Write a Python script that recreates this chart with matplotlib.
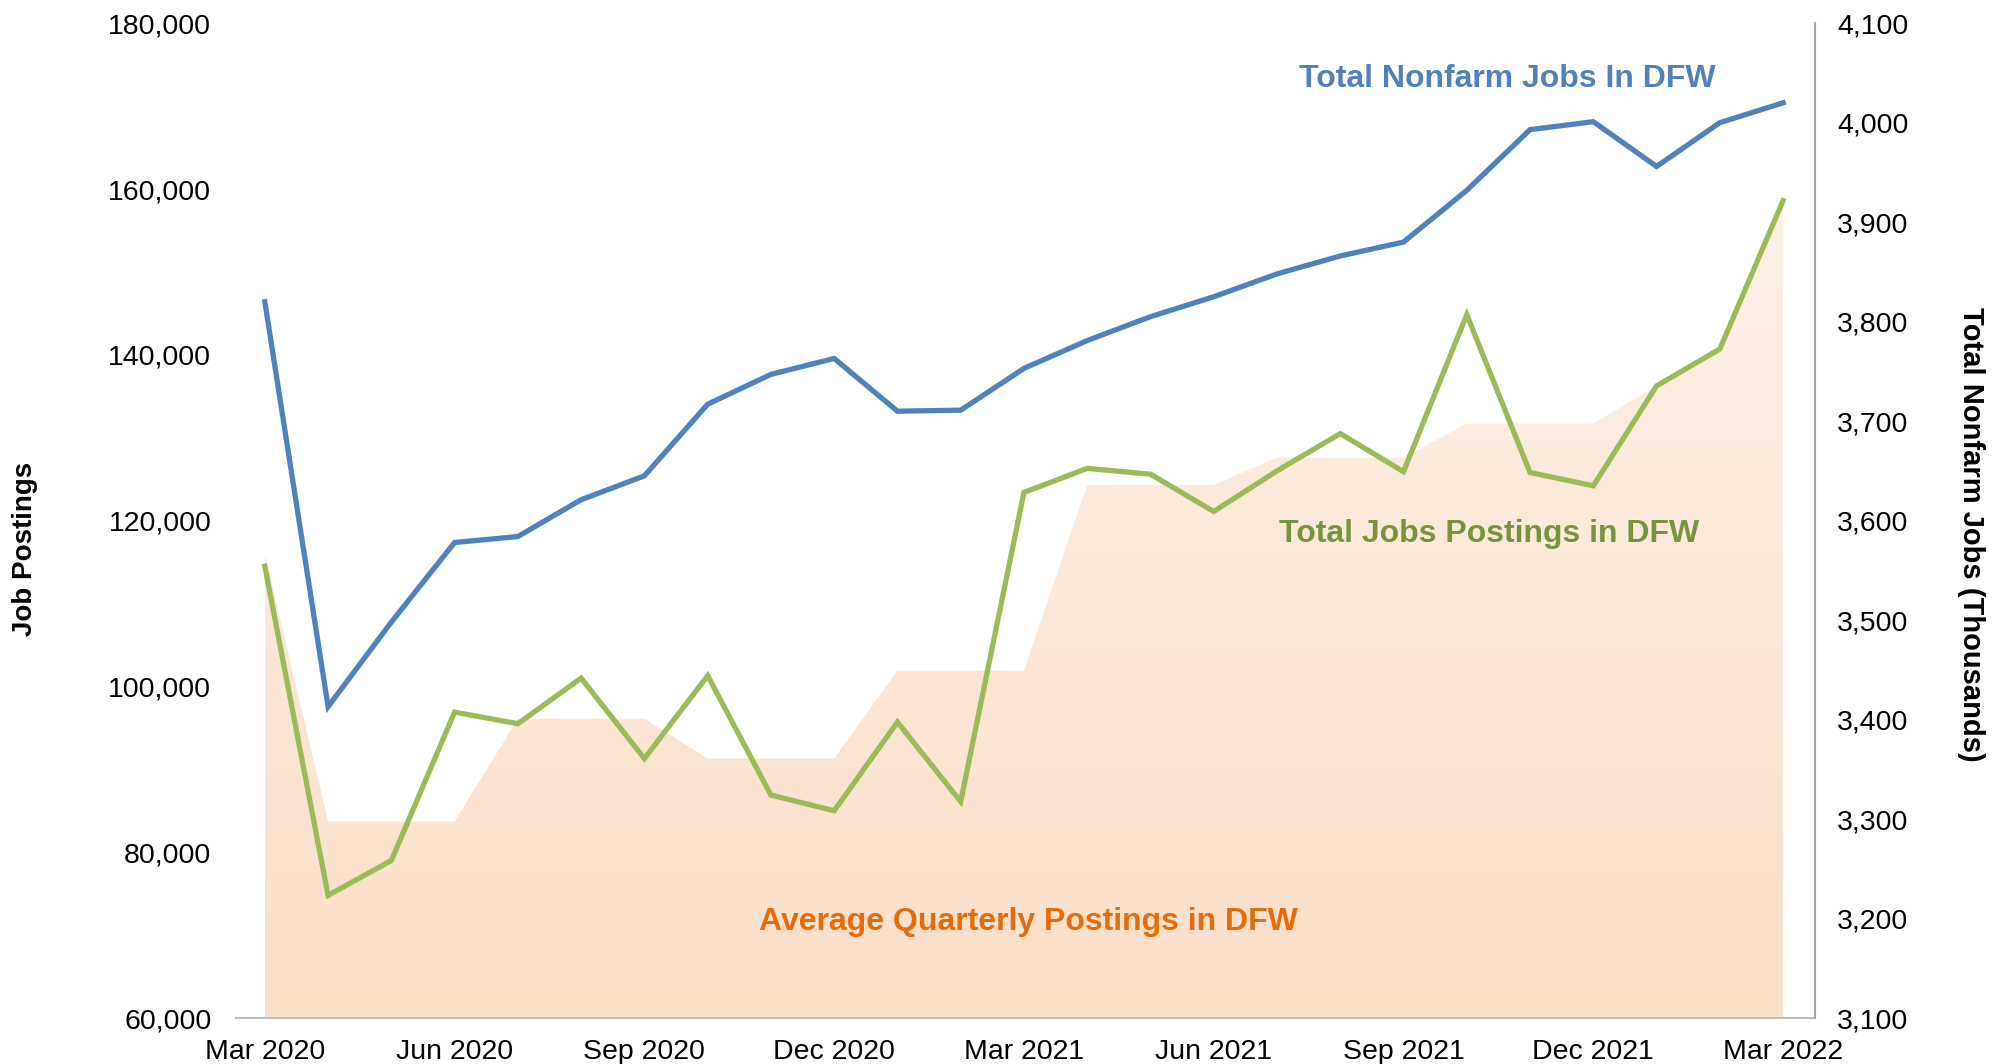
import numpy as np
import matplotlib as mpl
mpl.use('Agg')
import matplotlib.pyplot as plt
from matplotlib.colors import LinearSegmentedColormap

plt.rcParams['font.family'] = ['Liberation Sans', 'DejaVu Sans']

# monthly data, Mar 2020 .. Mar 2022
months = ['Mar 2020', 'Apr 2020', 'May 2020', 'Jun 2020', 'Jul 2020', 'Aug 2020', 'Sep 2020',
          'Oct 2020', 'Nov 2020', 'Dec 2020', 'Jan 2021', 'Feb 2021', 'Mar 2021', 'Apr 2021',
          'May 2021', 'Jun 2021', 'Jul 2021', 'Aug 2021', 'Sep 2021', 'Oct 2021', 'Nov 2021',
          'Dec 2021', 'Jan 2022', 'Feb 2022', 'Mar 2022']

nonfarm_jobs = [3820, 3413, 3498, 3578, 3584, 3621, 3645, 3717, 3747, 3763, 3710, 3711, 3753,
                3781, 3805, 3825, 3848, 3866, 3880, 3932, 3993, 4001, 3956, 4000, 4020]

job_postings = [114500, 74800, 79000, 96900, 95500, 101000, 91300, 101300, 86900, 85000, 95700,
                86100, 123400, 126300, 125600, 121100, 126000, 130500, 125900, 144850, 125800,
                124200, 136250, 140700, 158600]

avg_quarterly = [116000, 83700, 83700, 83700, 96100, 96100, 96100, 91300, 91300, 91300, 101900,
                 101900, 101900, 124300, 124300, 124300, 127600, 127600, 127600, 131700, 131700,
                 131700, 136250, 140700, 158600]

tick_labels = months[::3]

x = np.arange(len(months))

fig = plt.figure(figsize=(20.03, 10.64), dpi=100)
ax = fig.add_axes([0.118, 0.0432, 0.788, 0.935])
ax2 = ax.twinx()

### area with vertical gradient, clipped to the fill polygon
poly = ax.fill_between(x, 60000, avg_quarterly, facecolor='none', edgecolor='none')
cmap = LinearSegmentedColormap.from_list('peach', ['#FADFC9', '#FDF2E9'])
grad = np.linspace(0, 1, 256).reshape(-1, 1)
im = ax.imshow(grad, cmap=cmap, origin='lower', aspect='auto',
               extent=[x[0], x[-1], 60000, 165000], zorder=1)
im.set_clip_path(poly.get_paths()[0], transform=ax.transData)

ax.plot(x, job_postings, color='#9BBB59', lw=3.8, zorder=3, solid_joinstyle='miter')
ax2.plot(x, nonfarm_jobs, color='#4F81BD', lw=3.8, zorder=3, solid_joinstyle='miter')

ax.set_xlim(-0.45, 24.5)
ax.set_ylim(60000, 180000)
ax2.set_ylim(3100, 4100)
ax.set_yticks(np.arange(60000, 180001, 20000))
ax2.set_yticks(np.arange(3100, 4101, 100))
ax.yaxis.set_major_formatter(mpl.ticker.StrMethodFormatter('{x:,.0f}'))
ax2.yaxis.set_major_formatter(mpl.ticker.StrMethodFormatter('{x:,.0f}'))
ax.set_xticks(x[::3])
ax.set_xticklabels(tick_labels)

ax.tick_params(axis='x', length=0, pad=15, labelsize=20.5)
ax.tick_params(axis='y', length=0, pad=18, labelsize=20.5)
ax2.tick_params(axis='y', length=0, pad=16, labelsize=20.5)

for a in (ax, ax2):
    a.spines['top'].set_visible(False)
    a.spines['left'].set_visible(False)
    a.spines['right'].set_visible(False)
    a.spines['bottom'].set_visible(False)
ax.spines['bottom'].set_visible(True)
ax.spines['bottom'].set_color('#BFBFBF')
ax.spines['bottom'].set_linewidth(1.5)
ax2.spines['right'].set_visible(True)
ax2.spines['right'].set_color('#A6A6A6')
ax2.spines['right'].set_linewidth(1.5)

ax.text(0.805, 0.944, 'Total Nonfarm Jobs In DFW', transform=ax.transAxes, ha='center',
        va='center', fontsize=23, fontweight='bold', color='#4F81BD', zorder=5)
ax.text(0.7935, 0.4864, 'Total Jobs Postings in DFW', transform=ax.transAxes, ha='center',
        va='center', fontsize=23, fontweight='bold', color='#77933C', zorder=5)
ax.text(0.5016, 0.0965, 'Average Quarterly Postings in DFW', transform=ax.transAxes, ha='center',
        va='center', fontsize=23, fontweight='bold', color='#E46C0A', zorder=5)

fig.text(0.0127, 0.484, 'Job Postings', rotation=90, ha='center', va='center',
         fontsize=20, fontweight='bold')
fig.text(0.984, 0.498, 'Total Nonfarm Jobs (Thousands)', rotation=-90, ha='center', va='center',
         fontsize=21, fontweight='bold')

plt.savefig('out.png', dpi=100)
